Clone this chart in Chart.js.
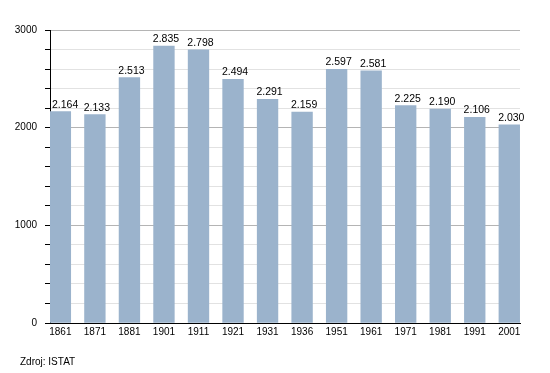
<!DOCTYPE html>
<html>
<head>
<meta charset="utf-8">
<script src="https://cdn.jsdelivr.net/npm/chart.js@4/dist/chart.umd.min.js"></script>
<style>
  body { margin: 0; background: #fff; }
  #wrap { position: relative; width: 550px; height: 373px; }
  #source {
    position: absolute; left: 20px; top: 356px;
    font: 10px "Liberation Sans", Arial, sans-serif; color: #000;
  }
</style>
</head>
<body>
<div id="wrap">
  <canvas id="chart"></canvas>
  <div id="source">Zdroj: ISTAT</div>
</div>
<script>
// Počet obyvatel podle sčítání
const years = ['1861', '1871', '1881', '1901', '1911', '1921', '1931', '1936', '1951', '1961', '1971', '1981', '1991', '2001'];
const population = [2164, 2133, 2513, 2835, 2798, 2494, 2291, 2159, 2597, 2581, 2225, 2190, 2106, 2030];
const yTickLabels = [0, 1000, 2000, 3000];

const FONT = '"Liberation Sans", Arial, sans-serif';

function formatThousands(v) {
  return String(v).replace(/\B(?=(\d{3})+(?!\d))/g, '.');
}

// popisky nad sloupci
const valueLabels = {
  id: 'valueLabels',
  afterDatasetsDraw(chart) {
    const ctx = chart.ctx;
    const meta = chart.getDatasetMeta(0);
    const left = chart.chartArea.left;
    ctx.save();
    ctx.font = '10.5px ' + FONT;
    ctx.fillStyle = '#000';
    ctx.textAlign = 'center';
    ctx.textBaseline = 'alphabetic';
    meta.data.forEach((bar, i) => {
      const text = formatThousands(population[i]);
      const half = ctx.measureText(text).width / 2;
      const x = Math.max(bar.x + 2, left + 2 + half);
      ctx.fillText(text, x, bar.y - 4);
    });
    ctx.restore();
  }
};

const ctx = document.getElementById('chart').getContext('2d');
new Chart(ctx, {
  type: 'bar',
  data: {
    datasets: [{
      data: population.map((v, i) => ({ x: i, y: v })),
      backgroundColor: '#9bb3cc',
      borderWidth: 0,
      barThickness: 20.7
    }]
  },
  options: {
    responsive: true,
    maintainAspectRatio: false,
    animation: false,
    layout: { padding: { left: 0, right: 30, top: 30, bottom: 30 } },
    plugins: {
      legend: { display: false },
      tooltip: { enabled: false }
    },
    scales: {
      x: {
        type: 'linear',
        offset: false,
        min: -0.3,
        max: 13.31,
        afterBuildTicks: (scale) => {
          scale.ticks = years.map((_, i) => ({ value: i }));
        },
        afterFit: (scale) => { scale.height = 20; },
        grid: { display: false, drawTicks: false, offset: false },
        border: { color: '#000', width: 1 },
        ticks: {
          autoSkip: false,
          maxRotation: 0,
          padding: 3,
          color: '#000',
          font: { family: FONT, size: 10 },
          callback: (v) => years[v]
        }
      },
      y: {
        min: 0,
        max: 3000,
        afterFit: (scale) => { scale.width = 50; },
        grid: {
          color: (c) => (c.tick && c.tick.value % 1000 === 0) ? '#b4b4b4' : '#e2e2e2',
          tickColor: '#000',
          tickLength: 5
        },
        border: { color: '#000', width: 1 },
        ticks: {
          stepSize: 200,
          padding: 8,
          color: '#000',
          font: { family: FONT, size: 10 },
          callback: (v) => yTickLabels.includes(v) ? String(v) : ''
        }
      }
    }
  },
  plugins: [valueLabels]
});
</script>
</body>
</html>
